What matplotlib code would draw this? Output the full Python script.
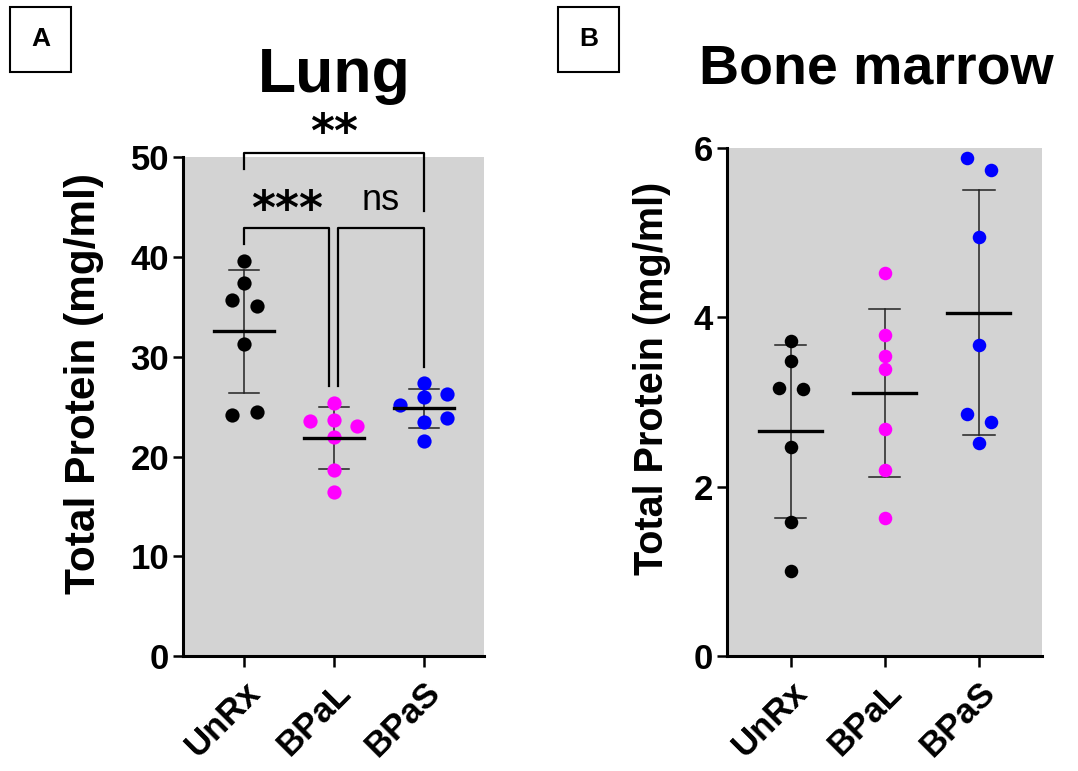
import numpy as np
import matplotlib
matplotlib.use("Agg")
import matplotlib.pyplot as plt
from matplotlib.patches import Rectangle

plt.rcParams["font.family"] = ["Liberation Sans", "DejaVu Sans"]

groups = ["UnRx", "BPaL", "BPaS"]
colors = ["#000000", "#ff00ff", "#0000ff"]

# Lung total protein (mg/ml)
lung_unrx = [39.6, 37.4, 35.7, 35.1, 31.3, 24.2, 24.5]
lung_bpal = [25.4, 23.6, 23.7, 23.1, 22.0, 18.7, 16.5]
lung_bpas = [27.4, 26.0, 26.3, 25.2, 23.5, 23.9, 21.6]
lung_dx = [[0, 0, -0.14, 0.14, 0, -0.14, 0.14],
           [0, -0.27, 0, 0.26, 0, 0, 0],
           [0, 0, 0.26, -0.26, 0, 0.26, 0]]

# Bone marrow total protein (mg/ml)
bm_unrx = [3.72, 3.49, 3.17, 3.16, 2.47, 1.58, 1.01]
bm_bpal = [4.52, 3.79, 3.54, 3.39, 2.68, 2.20, 1.63]
bm_bpas = [5.88, 5.74, 4.95, 3.67, 2.86, 2.77, 2.52]
bm_dx = [[0, 0, -0.125, 0.125, 0, 0, 0],
         [0, 0, 0, 0, 0, 0, 0],
         [-0.125, 0.125, 0, 0, -0.125, 0.125, 0]]

fig = plt.figure(figsize=(10.78, 7.71), dpi=100)
axA = fig.add_axes([0.1698, 0.149, 0.2792, 0.647])
axB = fig.add_axes([0.6744, 0.149, 0.2922, 0.659])


def dot_plot(ax, data, offsets, size, ymax, yticks, lab_size):
    ax.set_facecolor("#d3d3d3")
    for i, (vals, dx) in enumerate(zip(data, offsets)):
        vals = np.array(vals)
        ax.scatter(i + np.array(dx), vals, s=size, color=colors[i],
                   zorder=3, linewidths=0)
        m = vals.mean()
        sd = vals.std(ddof=1)
        ax.plot([i, i], [m - sd, m + sd], color="#222222", lw=1.1, zorder=2)
        for y in (m - sd, m + sd):
            ax.plot([i - 0.165, i + 0.165], [y, y], color="#222222", lw=1.1, zorder=2)
        ax.plot([i - 0.335, i + 0.335], [m, m], color="black", lw=2.4, zorder=4)
    ax.set_xlim(-0.68, 2.67)
    ax.set_ylim(0, ymax)
    ax.set_yticks(yticks)
    ax.set_xticks(range(3))
    ax.set_xticklabels(groups, rotation=45, ha="right", va="top",
                       rotation_mode="anchor", fontsize=25, fontweight="bold")
    for lab in ax.get_yticklabels():
        lab.set_fontsize(25)
        lab.set_fontweight("bold")
    for s in ("top", "right"):
        ax.spines[s].set_visible(False)
    for s in ("left", "bottom"):
        ax.spines[s].set_linewidth(2.2)
    ax.tick_params(axis="y", length=7, width=1.8, pad=3)
    ax.tick_params(axis="x", length=8, width=1.8, pad=6)
    ax.set_ylabel("Total Protein (mg/ml)", fontsize=lab_size, fontweight="bold")


dot_plot(axA, [lung_unrx, lung_bpal, lung_bpas], lung_dx, 105, 50,
         [0, 10, 20, 30, 40, 50], 30.5)
dot_plot(axB, [bm_unrx, bm_bpal, bm_bpas], bm_dx, 95, 6, [0, 2, 4, 6], 28.5)
axA.yaxis.set_label_coords(-0.262, 0.547)
axB.yaxis.set_label_coords(-0.178, 0.547)

# significance brackets (lung)
bk = dict(color="black", lw=1.6, clip_on=False, zorder=5)
axA.plot([0, 0, 2, 2], [48.8, 50.4, 50.4, 44.6], **bk)
axA.plot([0, 0, 0.95, 0.95], [41.3, 42.9, 42.9, 27.1], **bk)
axA.plot([1.05, 1.05, 2, 2], [27.1, 42.9, 42.9, 29.0], **bk)
axA.text(1.0, 52.3, "**", ha="center", va="center", fontsize=33,
         fontweight="bold", family="DejaVu Sans")
axA.text(0.48, 44.6, "***", ha="center", va="center", fontsize=33,
         fontweight="bold", family="DejaVu Sans")
axA.text(1.52, 45.7, "ns", ha="center", va="center", fontsize=26)

fig.text(334 / 1078, 1 - 92 / 771, "Lung", ha="center", va="baseline",
         fontsize=45, fontweight="bold")
fig.text(876 / 1078, 1 - 83 / 771, "Bone marrow", ha="center", va="baseline",
         fontsize=40, fontweight="bold")

for x0, lab in ((10, "A"), (558, "B")):
    fig.add_artist(Rectangle((x0 / 1078, 1 - 72 / 771), 61 / 1078, 65 / 771,
                             transform=fig.transFigure, fill=False,
                             edgecolor="black", lw=1.5))
    fig.text((x0 + 31) / 1078, 1 - 39 / 771, lab, ha="center", va="center",
             fontsize=19, fontweight="bold")

fig.savefig("out.png", dpi=100)
